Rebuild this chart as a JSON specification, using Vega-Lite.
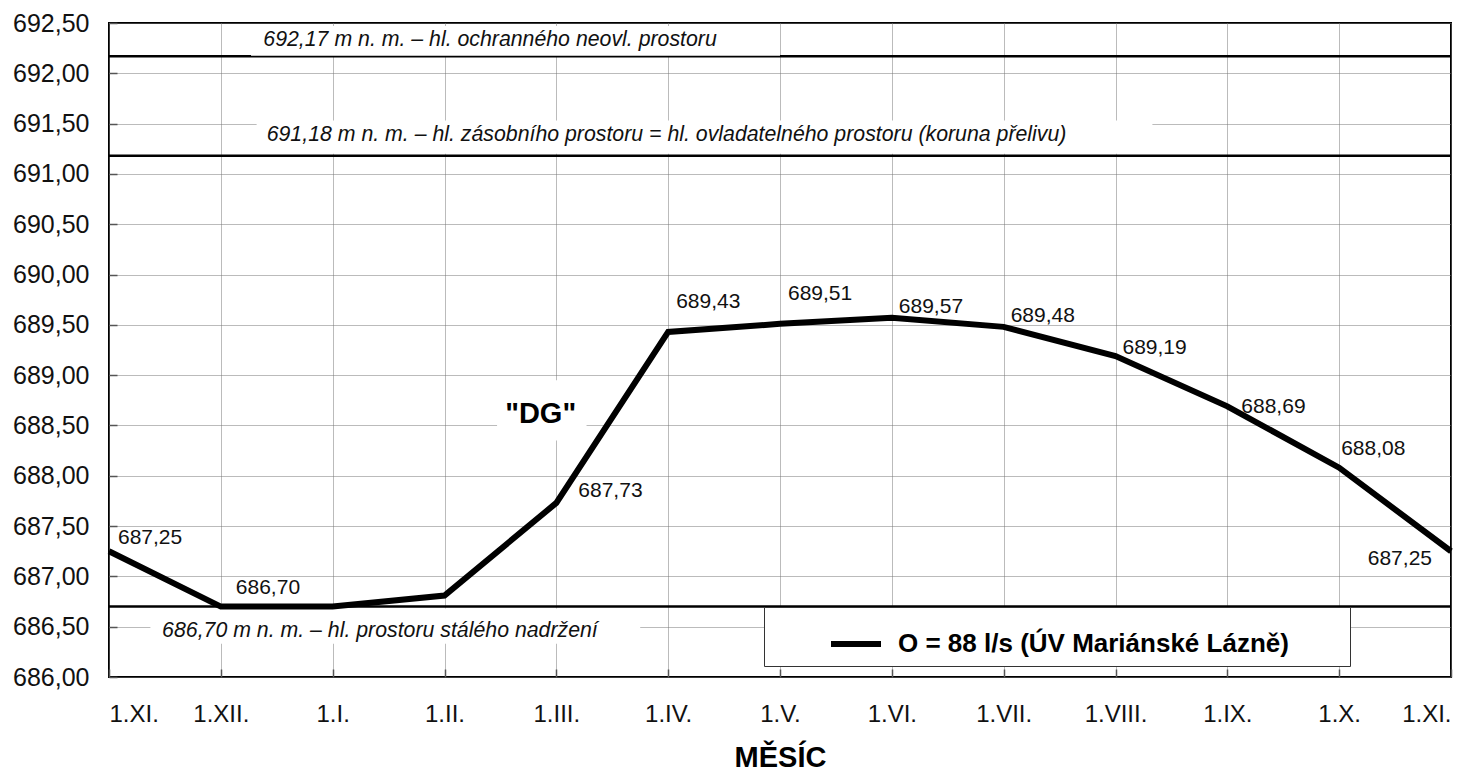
{
  "$schema": "https://vega.github.io/schema/vega-lite/v6.json",
  "width": 1342,
  "height": 654,
  "autosize": {"type": "none"},
  "padding": {"left": 109, "top": 23, "right": 28, "bottom": 97},
  "background": "white",
  "config": {
    "font": "Liberation Sans",
    "view": {"stroke": "#000", "strokeWidth": 2},
    "axis": {
      "domain": false,
      "grid": true,
      "gridColor": "#777",
      "gridDash": [1, 1],
      "gridWidth": 1,
      "tickColor": "#555",
      "tickSize": -8,
      "tickWidth": 1.5,
      "labelFont": "Liberation Sans",
      "labelColor": "#111",
      "titleFont": "Liberation Sans"
    }
  },
  "datasets": {
    "series": [
      {"i": 0, "v": 687.25, "s": "O = 88 l/s (ÚV Mariánské Lázně)"},
      {"i": 1, "v": 686.70, "s": "O = 88 l/s (ÚV Mariánské Lázně)"},
      {"i": 2, "v": 686.70, "s": "O = 88 l/s (ÚV Mariánské Lázně)"},
      {"i": 3, "v": 686.81, "s": "O = 88 l/s (ÚV Mariánské Lázně)"},
      {"i": 4, "v": 687.73, "s": "O = 88 l/s (ÚV Mariánské Lázně)"},
      {"i": 5, "v": 689.43, "s": "O = 88 l/s (ÚV Mariánské Lázně)"},
      {"i": 6, "v": 689.51, "s": "O = 88 l/s (ÚV Mariánské Lázně)"},
      {"i": 7, "v": 689.57, "s": "O = 88 l/s (ÚV Mariánské Lázně)"},
      {"i": 8, "v": 689.48, "s": "O = 88 l/s (ÚV Mariánské Lázně)"},
      {"i": 9, "v": 689.19, "s": "O = 88 l/s (ÚV Mariánské Lázně)"},
      {"i": 10, "v": 688.69, "s": "O = 88 l/s (ÚV Mariánské Lázně)"},
      {"i": 11, "v": 688.08, "s": "O = 88 l/s (ÚV Mariánské Lázně)"},
      {"i": 12, "v": 687.25, "s": "O = 88 l/s (ÚV Mariánské Lázně)"}
    ],
    "levels": [
      {"level": 692.17},
      {"level": 691.18},
      {"level": 686.70}
    ],
    "boxes": [
      {"bxa": 1.27, "bxb": 6.0, "bya": 692.47, "byb": 692.175},
      {"bxa": 1.32, "bxb": 9.33, "bya": 691.53, "byb": 691.20},
      {"bxa": 0.37, "bxb": 4.75, "bya": 686.68, "byb": 686.33},
      {"bxa": 3.47, "bxb": 4.27, "bya": 688.95, "byb": 688.35}
    ],
    "notes": [
      {"nx": 1.38, "ny": 692.33, "t": "692,17 m n. m. – hl. ochranného neovl. prostoru"},
      {"nx": 1.41, "ny": 691.39, "t": "691,18 m n. m. – hl. zásobního prostoru = hl. ovladatelného prostoru (koruna přelivu)"},
      {"nx": 0.475, "ny": 686.46, "t": "686,70 m n. m. – hl. prostoru stálého nadržení"}
    ],
    "dg": [
      {"nx": 3.86, "ny": 688.61, "t": "\"DG\""}
    ]
  },
  "layer": [
    {
      "data": {"name": "levels"},
      "mark": {"type": "rule", "color": "#000", "strokeWidth": 2.5},
      "encoding": {
        "y": {"field": "level", "type": "quantitative", "scale": {"domain": [686, 692.5], "nice": false, "zero": false}}
      }
    },
    {
      "data": {"name": "boxes"},
      "mark": {"type": "rect", "color": "white"},
      "encoding": {
        "x": {"field": "bxa", "type": "quantitative"},
        "x2": {"field": "bxb"},
        "y": {"field": "bya", "type": "quantitative"},
        "y2": {"field": "byb"}
      }
    },
    {
      "data": {"name": "notes"},
      "mark": {"type": "text", "align": "left", "baseline": "middle", "fontStyle": "italic", "fontSize": 21.3, "color": "#111"},
      "encoding": {
        "x": {"field": "nx", "type": "quantitative"},
        "y": {"field": "ny", "type": "quantitative"},
        "text": {"field": "t"}
      }
    },
    {
      "data": {"name": "dg"},
      "mark": {"type": "text", "align": "center", "baseline": "middle", "fontWeight": "bold", "fontSize": 29, "color": "#000"},
      "encoding": {
        "x": {"field": "nx", "type": "quantitative"},
        "y": {"field": "ny", "type": "quantitative"},
        "text": {"field": "t"}
      }
    },
    {
      "data": {"name": "series"},
      "mark": {"type": "line", "strokeWidth": 6, "strokeJoin": "miter"},
      "encoding": {
        "x": {
          "field": "i", "type": "quantitative",
          "scale": {"domain": [0, 12], "nice": false, "zero": false},
          "axis": {
            "values": [0, 1, 2, 3, 4, 5, 6, 7, 8, 9, 10, 11, 12],
            "labelExpr": "['1.XI.','1.XII.','1.I.','1.II.','1.III.','1.IV.','1.V.','1.VI.','1.VII.','1.VIII.','1.IX.','1.X.','1.XI.'][datum.value]",
            "labelFontSize": 24,
            "labelPadding": 33,
            "title": "MĚSÍC",
            "titleFontSize": 29,
            "titleFontWeight": "bold",
            "titlePadding": 17,
            "titleColor": "#000"
          }
        },
        "y": {
          "field": "v", "type": "quantitative",
          "scale": {"domain": [686, 692.5], "nice": false, "zero": false},
          "axis": {
            "values": [686, 686.5, 687, 687.5, 688, 688.5, 689, 689.5, 690, 690.5, 691, 691.5, 692, 692.5],
            "labelExpr": "replace(format(datum.value, '.2f'), '.', ',')",
            "labelFontSize": 25,
            "labelPadding": 28,
            "title": null
          }
        },
        "color": {
          "field": "s", "type": "nominal",
          "scale": {"range": ["#000"]},
          "legend": {
            "orient": "none",
            "legendX": 655,
            "legendY": 584,
            "title": " ",
            "titleOrient": "right",
            "titleFontSize": 10,
            "titlePadding": 52,
            "fillColor": "white",
            "strokeColor": "#333",
            "padding": 9,
            "symbolType": "stroke",
            "symbolStrokeWidth": 6,
            "symbolSize": 2500,
            "symbolOffset": 55,
            "labelFontSize": 26,
            "labelFontWeight": "bold",
            "labelColor": "#000",
            "labelOffset": 14,
            "labelLimit": 600
          }
        }
      }
    },
    {
      "data": {"name": "series"},
      "transform": [
        {"filter": "indexof([5, 6], datum.i) >= 0"},
        {"calculate": "replace(format(datum.v, '.2f'), '.', ',')", "as": "lab"}
      ],
      "mark": {"type": "text", "align": "left", "baseline": "alphabetic", "fontSize": 21, "dx": 8, "dy": -24, "color": "#111"},
      "encoding": {
        "x": {"field": "i", "type": "quantitative"},
        "y": {"field": "v", "type": "quantitative"},
        "text": {"field": "lab"}
      }
    },
    {
      "data": {"name": "series"},
      "transform": [
        {"filter": "datum.i == 0"},
        {"calculate": "replace(format(datum.v, '.2f'), '.', ',')", "as": "lab"}
      ],
      "mark": {"type": "text", "align": "left", "baseline": "alphabetic", "fontSize": 21, "dx": 9, "dy": -7, "color": "#111"},
      "encoding": {
        "x": {"field": "i", "type": "quantitative"},
        "y": {"field": "v", "type": "quantitative"},
        "text": {"field": "lab"}
      }
    },
    {
      "data": {"name": "series"},
      "transform": [
        {"filter": "datum.i == 1"},
        {"calculate": "replace(format(datum.v, '.2f'), '.', ',')", "as": "lab"}
      ],
      "mark": {"type": "text", "align": "left", "baseline": "alphabetic", "fontSize": 21, "dx": 15, "dy": -13, "color": "#111"},
      "encoding": {
        "x": {"field": "i", "type": "quantitative"},
        "y": {"field": "v", "type": "quantitative"},
        "text": {"field": "lab"}
      }
    },
    {
      "data": {"name": "series"},
      "transform": [
        {"filter": "datum.i == 11"},
        {"calculate": "replace(format(datum.v, '.2f'), '.', ',')", "as": "lab"}
      ],
      "mark": {"type": "text", "align": "left", "baseline": "alphabetic", "fontSize": 21, "dx": 2, "dy": -13, "color": "#111"},
      "encoding": {
        "x": {"field": "i", "type": "quantitative"},
        "y": {"field": "v", "type": "quantitative"},
        "text": {"field": "lab"}
      }
    },
    {
      "data": {"name": "series"},
      "transform": [
        {"filter": "indexof([7, 8], datum.i) >= 0"},
        {"calculate": "replace(format(datum.v, '.2f'), '.', ',')", "as": "lab"}
      ],
      "mark": {"type": "text", "align": "left", "baseline": "alphabetic", "fontSize": 21, "dx": 7, "dy": -5, "color": "#111"},
      "encoding": {
        "x": {"field": "i", "type": "quantitative"},
        "y": {"field": "v", "type": "quantitative"},
        "text": {"field": "lab"}
      }
    },
    {
      "data": {"name": "series"},
      "transform": [
        {"filter": "datum.i == 9"},
        {"calculate": "replace(format(datum.v, '.2f'), '.', ',')", "as": "lab"}
      ],
      "mark": {"type": "text", "align": "left", "baseline": "alphabetic", "fontSize": 21, "dx": 7, "dy": -2, "color": "#111"},
      "encoding": {
        "x": {"field": "i", "type": "quantitative"},
        "y": {"field": "v", "type": "quantitative"},
        "text": {"field": "lab"}
      }
    },
    {
      "data": {"name": "series"},
      "transform": [
        {"filter": "datum.i == 4"},
        {"calculate": "replace(format(datum.v, '.2f'), '.', ',')", "as": "lab"}
      ],
      "mark": {"type": "text", "align": "left", "baseline": "alphabetic", "fontSize": 21, "dx": 22, "dy": -6, "color": "#111"},
      "encoding": {
        "x": {"field": "i", "type": "quantitative"},
        "y": {"field": "v", "type": "quantitative"},
        "text": {"field": "lab"}
      }
    },
    {
      "data": {"name": "series"},
      "transform": [
        {"filter": "datum.i == 10"},
        {"calculate": "replace(format(datum.v, '.2f'), '.', ',')", "as": "lab"}
      ],
      "mark": {"type": "text", "align": "left", "baseline": "alphabetic", "fontSize": 21, "dx": 14, "dy": 7, "color": "#111"},
      "encoding": {
        "x": {"field": "i", "type": "quantitative"},
        "y": {"field": "v", "type": "quantitative"},
        "text": {"field": "lab"}
      }
    },
    {
      "data": {"name": "series"},
      "transform": [
        {"filter": "datum.i == 12"},
        {"calculate": "replace(format(datum.v, '.2f'), '.', ',')", "as": "lab"}
      ],
      "mark": {"type": "text", "align": "right", "baseline": "alphabetic", "fontSize": 21, "dx": -19, "dy": 14, "color": "#111"},
      "encoding": {
        "x": {"field": "i", "type": "quantitative"},
        "y": {"field": "v", "type": "quantitative"},
        "text": {"field": "lab"}
      }
    }
  ]
}
